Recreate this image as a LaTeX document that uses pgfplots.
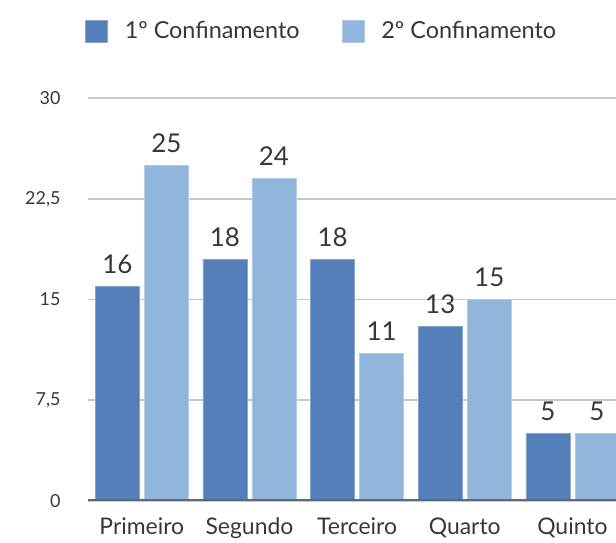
\documentclass[border=0pt]{standalone}
\usepackage{pgfplots}
\pgfplotsset{compat=1.18}
\usepackage{fontspec}
\setmainfont{Lato}
\definecolor{cdark}{RGB}{84,127,186}
\definecolor{clight}{RGB}{146,181,219}
\definecolor{ctext}{RGB}{55,55,55}
\definecolor{cgrid}{RGB}{200,200,200}
\definecolor{cbase}{RGB}{95,105,118}
\begin{document}
\begin{tikzpicture}
\useasboundingbox (0,0) rectangle (616bp,543bp);
\begin{axis}[
  at={(88bp,42bp)}, anchor=south west,
  scale only axis, width=528bp, height=403bp,
  /pgf/number format/assume math mode=true,
  ybar, bar width=44bp,
  ymin=0, ymax=30,
  xmin=-0.5, xmax=4.405,
  ytick={0,7.5,15,22.5,30},
  yticklabels={0,{7,5},15,{22,5},30},
  xtick={0,1,2,3,4},
  xticklabels={Primeiro,Segundo,Terceiro,Quarto,Quinto},
  axis line style={draw=none},
  major tick length=0pt,
  ymajorgrids, grid style={cgrid, line width=1.8bp},
  yticklabel style={font=\fontsize{18}{21}\selectfont, text=ctext, xshift=-24bp},
  xticklabel style={font=\fontsize{23}{27}\selectfont, text=ctext, yshift=-13bp},
  nodes near coords,
  every node near coord/.append style={font=\fontsize{26}{30}\selectfont, text=ctext, yshift=9bp},
  legend columns=2,
  legend style={draw=none, fill=none, at={(rel axis cs:-0.006,1.166)}, anchor=west,
    font=\fontsize{23.5}{27}\selectfont, text=ctext, inner sep=0pt,
    /tikz/every odd column/.append style={column sep=15bp},
    /tikz/every even column/.append style={column sep=40bp}},
  legend image code/.code={\fill[#1] (0bp,-11bp) rectangle (22bp,11bp);},
  clip=true,
]
\addplot[fill=cdark, draw=cdark!70!white, line width=0.8bp, bar shift=-24.5bp] coordinates {(0,16) (1,18) (2,18) (3,13) (4,5)};
\addplot[fill=clight, draw=clight!70!white, line width=0.8bp, bar shift=24.5bp] coordinates {(0,25) (1,24) (2,11) (3,15) (4,5)};
\legend{1º Confinamento, 2º Confinamento}
\draw[cbase, line width=3bp] (rel axis cs:0,0) -- (rel axis cs:1,0);
\end{axis}
\end{tikzpicture}
\end{document}
